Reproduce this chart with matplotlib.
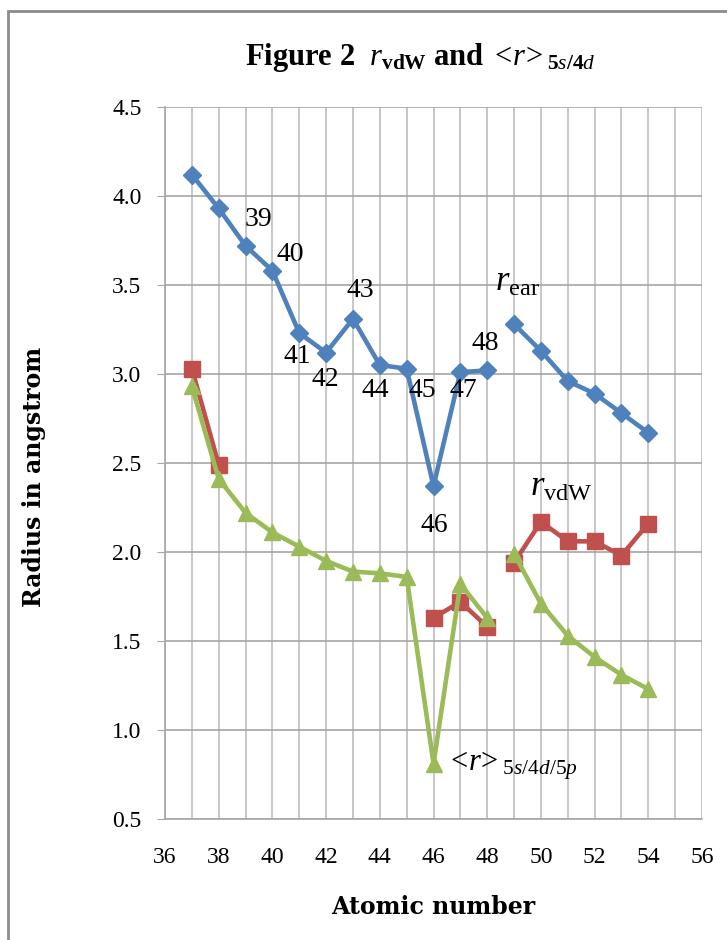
import numpy as np
import matplotlib
matplotlib.use("Agg")
from matplotlib import pyplot as plt
from matplotlib.patches import Rectangle

plt.rcParams["mathtext.fontset"] = "custom"
plt.rcParams["mathtext.rm"] = "Liberation Serif"
plt.rcParams["mathtext.it"] = "Liberation Serif:italic"
plt.rcParams["mathtext.bf"] = "Liberation Serif:bold"

# atomic numbers 37..54 (Rb .. Xe)
atomic = [37, 38, 39, 40, 41, 42, 43, 44, 45, 46, 47, 48, 49, 50, 51, 52, 53, 54]
r_ear = [4.12, 3.93, 3.72, 3.58, 3.23, 3.12, 3.31, 3.05, 3.03, 2.37, 3.01, 3.02,
         3.28, 3.13, 2.96, 2.89, 2.78, 2.67]
r_vdw = [3.03, 2.49, None, None, None, None, None, None, None, 1.63, 1.72, 1.58,
         1.94, 2.17, 2.06, 2.06, 1.98, 2.16]
r_mean = [2.93, 2.41, 2.22, 2.11, 2.03, 1.95, 1.89, 1.88, 1.86, 0.81, 1.82, 1.63,
          1.99, 1.71, 1.53, 1.41, 1.31, 1.23]
point_labels = ["39", "40", "41", "42", "43", "44", "45", "46", "47", "48"]
label_pos = [(39.47, 3.87), (40.66, 3.67), (40.93, 3.10), (41.97, 2.97), (43.28, 3.47),
             (43.84, 2.91), (45.59, 2.91), (46.04, 2.15), (47.12, 2.91), (47.94, 3.17)]

blue = "#4F81BD"
red = "#C0504D"
green = "#9BBB59"

fig = plt.figure(figsize=(7.27, 9.40), dpi=100)
ax = fig.add_axes([0.227, 0.1287, 0.7386, 0.7575])

z = np.array(atomic)
split = atomic.index(49)


def draw(vals, color, marker, ms):
    v = np.array([np.nan if a is None else a for a in vals], dtype=float)
    for sl in (slice(0, split), slice(split, None)):
        ax.plot(z[sl], v[sl], color=color, lw=3.3, marker=marker, ms=ms,
                mec=color, mfc=color, zorder=3)


draw(r_ear, blue, "D", 9)
draw(r_vdw, red, "s", 12)
draw(r_mean, green, "^", 12)

ax.set_xlim(36, 56)
ax.set_ylim(0.5, 4.5)
ax.set_xticks(np.arange(36, 57, 2))
ax.set_xticks(np.arange(36, 57, 1), minor=True)
ax.set_yticks(np.arange(0.5, 4.51, 0.5))
ax.set_yticklabels([f"{t:.1f}" for t in np.arange(0.5, 4.51, 0.5)])
ax.grid(True, which="both", axis="x", color="#BEBEBE", lw=1.2)
ax.grid(True, which="major", axis="y", color="#A6A6A6", lw=1.2)
ax.set_axisbelow(True)
for s in ("top", "right"):
    ax.spines[s].set_visible(False)
for s in ("left", "bottom"):
    ax.spines[s].set_color("#A6A6A6")
    ax.spines[s].set_linewidth(1.2)
ax.tick_params(axis="y", which="major", length=6, color="#A6A6A6", labelsize=17, pad=11)
ax.tick_params(axis="x", which="both", length=0, labelsize=17, pad=20)
for lab in ax.get_xticklabels() + ax.get_yticklabels():
    lab.set_fontfamily("Liberation Serif")

ax.set_xlabel("Atomic number", fontsize=17, fontweight="bold", family="DejaVu Serif")
ax.set_ylabel("Radius in angstrom", fontsize=17, fontweight="bold", family="DejaVu Serif")
ax.xaxis.set_label_coords(0.5, -0.107)
ax.yaxis.set_label_coords(-0.222, 0.48)

for txt, (px, py) in zip(point_labels, label_pos):
    ax.text(px, py, txt, fontsize=20, family="Liberation Serif", ha="center", va="center")

ax.text(48.3, 3.52, r"$r_{\mathrm{ear}}$", fontsize=25, ha="left", va="center")
ax.text(49.6, 2.37, r"$r_{\mathrm{vdW}}$", fontsize=25, ha="left", va="center")
ax.text(46.45, 0.80, r"$<\!r\!>_{5s/4d/5p}$", fontsize=22, ha="left", va="center")

fig.text(0.578, 0.939,
         r"Figure 2  $\mathit{r}_{\mathbf{vdW}}$ and $<\!\mathit{r}\!>_{\mathbf{5}\mathit{s}\mathbf{/4}\mathit{d}}$",
         fontsize=22, fontweight="bold", family="Liberation Serif", ha="center", va="center")

fig.add_artist(Rectangle((8 / 727, -0.1), 1.2, 1.1 - 11 / 940, transform=fig.transFigure,
                         fill=False, edgecolor="#8C8C8C", lw=2))

fig.savefig("out.png", dpi=100)
